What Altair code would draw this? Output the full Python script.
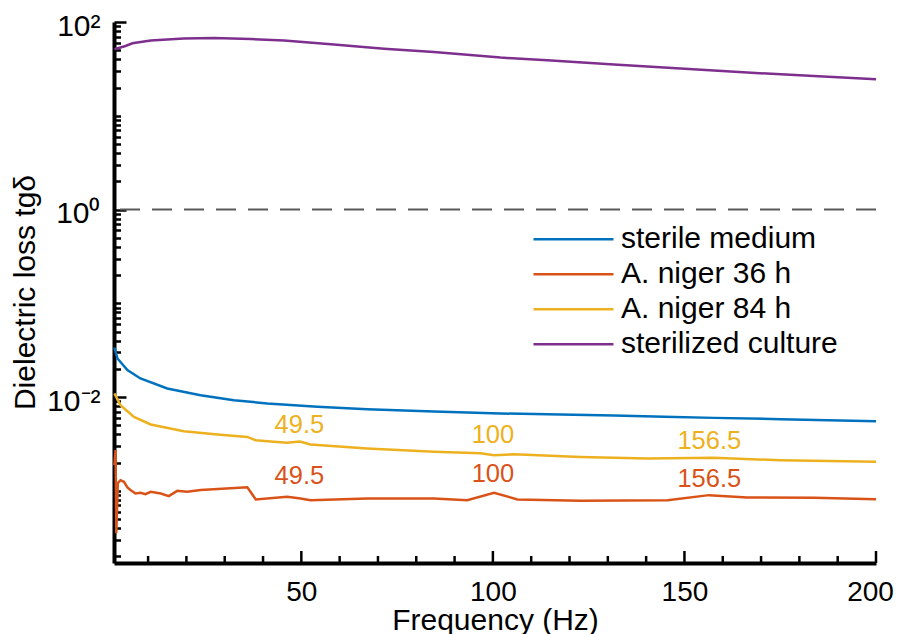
import altair as alt
import pandas as pd

FONT = "Liberation Sans"

# ---- data ----
f_sterile = [1.2, 2.0, 4.6, 8.0, 15.0, 23.7, 32.4, 41.1, 54.2, 67.2, 84.6, 102.0, 114.2, 131.6, 144.7, 157.7, 175.1, 200.0]
v_sterile = [0.0338, 0.0258, 0.0194, 0.01578, 0.01235, 0.01047, 0.00927, 0.00855, 0.00787, 0.00743, 0.00702, 0.00668, 0.00657, 0.00637, 0.00615, 0.0060, 0.00581, 0.00553]

f_n36 = [1.2, 1.5, 1.7, 2.1, 2.8, 3.7, 4.6, 5.4, 6.7, 8.0, 9.3, 10.7, 13.3, 15.4, 17.6, 20.2, 23.7, 35.9, 38.1, 46.3, 49.8,
         52.4, 67.2, 84.6, 93.3, 100.3, 106.4, 122.9, 145.6, 156.4, 166.4, 183.8, 200.0]
v_n36 = [1.88e-3, 2.72e-3, 3.54e-4, 1.21e-3, 1.30e-3, 1.25e-3, 1.09e-3, 1.02e-3, 9.38e-4, 9.52e-4, 9.22e-4, 9.76e-4, 9.38e-4, 8.79e-4, 1.0e-3, 9.76e-4, 1.02e-3, 1.09e-3, 8.1e-4, 8.63e-4, 8.3e-4,
         7.96e-4, 8.3e-4, 8.3e-4, 7.96e-4, 9.53e-4, 8.1e-4, 7.82e-4, 7.96e-4, 9.0e-4, 8.51e-4, 8.42e-4, 8.15e-4]

f_n84 = [1.2, 2.8, 6.3, 10.7, 19.3, 28.1, 35.9, 38.1, 42.8, 46.3, 49.6, 52.4, 67.2, 84.6, 96.8, 100.3, 105.5, 122.9, 140.3, 157.7, 175.1, 200.0]
v_n84 = [0.01093, 0.0082, 0.00615, 0.0051, 0.00433, 0.00399, 0.00376, 0.00347, 0.00333, 0.00325, 0.00336, 0.00312, 0.00283, 0.00261, 0.00251, 0.0024, 0.00246, 0.0023, 0.00221, 0.00225, 0.00212, 0.00204]

f_cult = [1.2, 4.1, 5.9, 10.7, 19.3, 27.2, 36.8, 45.5, 58.5, 71.6, 84.6, 102.0, 114.2, 131.6, 149.0, 166.4, 183.8, 200.0]
v_cult = [51.2, 55.5, 59.3, 63.4, 66.5, 67.5, 65.9, 63.4, 57.4, 52.0, 47.9, 41.7, 39.1, 35.2, 31.9, 28.9, 26.6, 24.5]

series_names = ["sterile medium", "A. niger 36 h", "A. niger 84 h", "sterilized culture"]
series_colors = ["#0072BD", "#D95319", "#EDB120", "#7E2F8E"]

ann_freq = [49.5, 100, 156.5]
ann_text = ["49.5", "100", "156.5"]
ann_y_n84 = [4.12e-3, 3.22e-3, 2.78e-3]
ann_y_n36 = [1.18e-3, 1.25e-3, 1.09e-3]

x_major = [50, 100, 150, 200]
x_minor = [10, 20, 30, 40, 60, 70, 80, 90, 110, 120, 130, 140, 160, 170, 180, 190]
y_major = [0.01, 1, 100]
y_minor = [m * 10.0 ** k for k in range(-4, 2) for m in range(1, 10)
           if m * 10.0 ** k >= 1.7e-4 and round(m * 10.0 ** k, 8) not in (0.01, 1.0, 100.0)]

W, H = 762, 541

# ---- build table ----
rows = []
for name, fs, vs in zip(series_names, [f_sterile, f_n36, f_n84, f_cult], [v_sterile, v_n36, v_n84, v_cult]):
    for i, (f, v) in enumerate(zip(fs, vs)):
        rows.append({"f": f, "v": v, "series": name, "i": i})
df = pd.DataFrame(rows)
ann = pd.DataFrame({"f": ann_freq, "label": ann_text, "y84": ann_y_n84, "y36": ann_y_n36})

xscale = alt.Scale(domain=[1.1, 200], nice=False, zero=False)
yscale = alt.Scale(type="log", domain=[1.7e-4, 100], nice=False)

main_x_axis = alt.Axis(orient="bottom", values=x_major, ticks=False, grid=False, domain=True, domainColor="black",
                       domainWidth=4, labelFont=FONT, labelFontSize=28, labelColor="black", labelPadding=15,
                       labelFlush=False,
                       labelOffset={"condition": {"test": "datum.value >= 200", "value": -6}, "value": 0},
                       title="Frequency (Hz)", titleFont=FONT, titleFontSize=30, titleFontWeight="normal",
                       titleColor="black", titleX=381, titleY=66, titleBaseline="alphabetic", titleAlign="center")
main_y_axis = alt.Axis(orient="left", values=y_major, ticks=False, grid=False, domain=True, domainColor="black",
                       domainWidth=4,
                       labelExpr="datum.value > 10 ? '10²' : (datum.value > 0.1 ? '10⁰' : '10⁻²')",
                       labelFont=FONT, labelFontSize=30, labelColor="black", labelPadding=14, labelFlush=False,
                       labelOffset=4,
                       title="Dielectric loss tgδ", titleFont=FONT, titleFontSize=30, titleFontWeight="normal",
                       titleColor="black", titleX=-80, titleY=270, titleAngle=270, titleBaseline="alphabetic",
                       titleAlign="center")

legend = alt.Legend(title=None, orient="none", legendX=418, legendY=200, symbolType="stroke", symbolSize=6400,
                    symbolStrokeWidth=2.5, labelFont=FONT, labelFontSize=30, labelColor="black", labelOffset=6,
                    clipHeight=34.6, rowPadding=0, padding=0, labelLimit=400)

lines = alt.Chart(df).mark_line(strokeWidth=2.5).encode(
    x=alt.X("f:Q", scale=xscale, axis=main_x_axis),
    y=alt.Y("v:Q", scale=yscale, axis=main_y_axis),
    color=alt.Color("series:N", scale=alt.Scale(domain=series_names, range=series_colors), legend=legend),
    order="i:Q",
)

ref = alt.Chart(pd.DataFrame({"y": [1]})).mark_rule(color="#595959", strokeWidth=2, strokeDash=[20, 12]).encode(
    y=alt.Y("y:Q", scale=yscale, axis=None)
)

txt84 = alt.Chart(ann).mark_text(font=FONT, fontSize=25.5, align="center", baseline="alphabetic",
                                 color=series_colors[2]).encode(
    x=alt.X("f:Q", scale=xscale, axis=None), y=alt.Y("y84:Q", scale=yscale, axis=None), text="label:N")
txt36 = alt.Chart(ann).mark_text(font=FONT, fontSize=25.5, align="center", baseline="alphabetic",
                                 color=series_colors[1]).encode(
    x=alt.X("f:Q", scale=xscale, axis=None), y=alt.Y("y36:Q", scale=yscale, axis=None), text="label:N")


def y_tick_layer(yvals, size):
    # invisible layer whose only job is to carry an inward-pointing tick axis
    return alt.Chart(df).mark_point(opacity=0).encode(
        x=alt.X("f:Q", scale=xscale, axis=None),
        y=alt.Y("v:Q", scale=yscale, axis=alt.Axis(orient="left", values=yvals, labels=False, domain=False,
                                                   grid=False, ticks=True, tickSize=size, tickWidth=2.5,
                                                   tickColor="black", offset=-size, title=None)),
    )


def x_tick_layer(xvals, size):
    return alt.Chart(pd.DataFrame({"t": xvals})).mark_rule(color="black", strokeWidth=2.5).encode(
        x=alt.X("t:Q", scale=xscale, axis=None),
        y=alt.value(H),
        y2=alt.value(H - size),
    )


chart = alt.layer(
    ref, lines, y_tick_layer(y_major, 12), y_tick_layer(y_minor, 6.5), x_tick_layer(x_major, 12),
    x_tick_layer(x_minor, 7), txt84, txt36,
).resolve_axis(
    x="independent", y="independent"
).properties(
    width=W, height=H,
    autosize=alt.AutoSizeParams(type="none"),
    padding={"left": 106, "top": 14, "right": 18, "bottom": 71},
).configure_view(stroke=None)

chart.save("out.html", embed_options={"renderer": "svg", "actions": False})
